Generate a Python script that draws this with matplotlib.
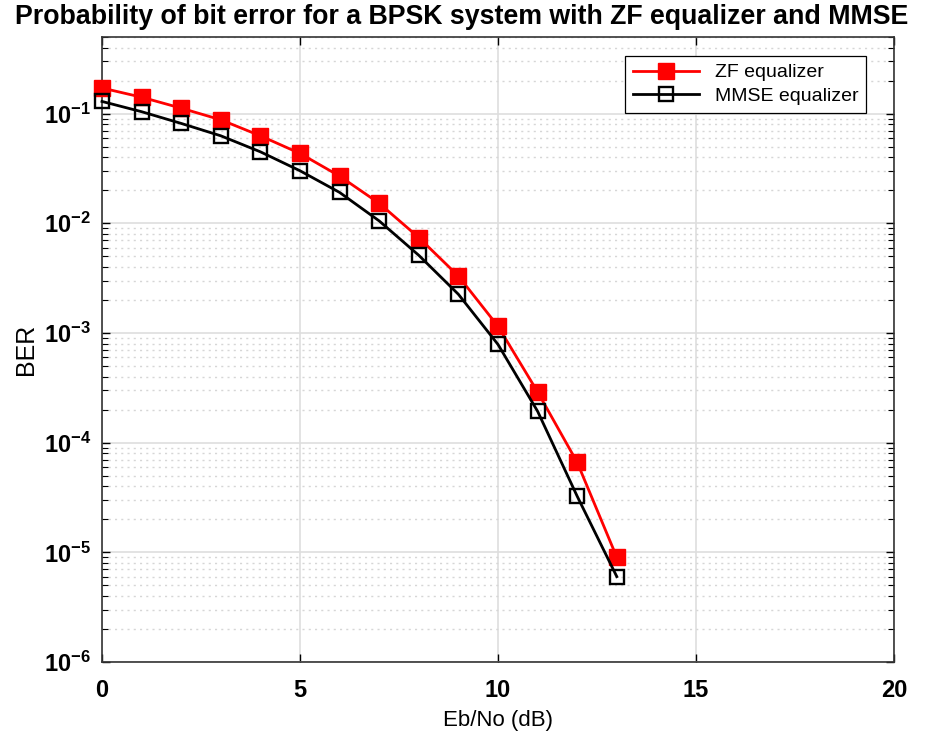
import matplotlib
matplotlib.use('Agg')
import matplotlib.pyplot as plt
from matplotlib.ticker import LogLocator, NullFormatter

# Eb/No values in dB
ebno_db = [0, 1, 2, 3, 4, 5, 6, 7, 8, 9, 10, 11, 12, 13]

# BER
ber_zf = [0.171, 0.141, 0.112, 0.0877, 0.0627, 0.0433, 0.0269, 0.0152,
          0.0074, 0.0033, 0.00115, 2.9e-4, 6.6e-5, 9.0e-6]
ber_mmse = [0.129, 0.104, 0.0813, 0.0627, 0.0448, 0.0301, 0.0191, 0.0105,
            0.0051, 0.00225, 7.85e-4, 1.93e-4, 3.24e-5, 6.0e-6]

x_ticks = [0, 5, 10, 15, 20]

plt.rcParams['font.family'] = ['Liberation Sans', 'DejaVu Sans']

fig = plt.figure(figsize=(9.34, 7.38), dpi=100)
ax = fig.add_axes([0.1092, 0.103, 0.848, 0.847])

ax.semilogy(ebno_db, ber_zf, color='red', lw=2, marker='s', ms=11,
            mfc='red', mec='red', label='ZF equalizer', clip_on=False, zorder=3)
ax.semilogy(ebno_db, ber_mmse, color='black', lw=2, marker='s', ms=10,
            mfc='none', mec='black', mew=1.7, label='MMSE equalizer', clip_on=False, zorder=3)

ax.set_xlim(0, 20)
ax.set_ylim(1e-6, 0.5)
ax.set_xticks(x_ticks)
ax.yaxis.set_major_locator(LogLocator(base=10, numticks=20))
ax.yaxis.set_minor_locator(LogLocator(base=10, subs=range(2, 10), numticks=100))
ax.yaxis.set_minor_formatter(NullFormatter())

ax.grid(True, which='major', color='#dedede', lw=1.2, ls='-')
ax.grid(True, which='minor', axis='y', color='#d6d6d6', lw=1, ls=(0, (1.5, 3)))
ax.set_axisbelow(True)

ax.tick_params(which='both', direction='in', top=True, right=True)
ax.tick_params(which='major', length=6, width=1, labelsize=17)
ax.tick_params(axis='x', which='major', pad=12)
ax.tick_params(axis='y', which='major', pad=8)
ax.tick_params(which='minor', length=4, width=0.8)
for lab in ax.get_xticklabels() + ax.get_yticklabels():
    lab.set_fontweight('bold')
for s in ax.spines.values():
    s.set_color('#333333')
    s.set_linewidth(1.2)

ax.set_xlabel('Eb/No (dB)', fontsize=16, labelpad=6)
ax.set_ylabel('BER', fontsize=18, labelpad=4)
ax.set_title('Probability of bit error for a BPSK system with ZF equalizer and MMSE',
             fontsize=19.3, fontweight='bold', pad=9, x=0.4545)

leg = ax.legend(loc='upper right', fontsize=14, fancybox=False, framealpha=1,
                edgecolor='black', handlelength=3.4, borderpad=0.4,
                labelspacing=0.3, bbox_to_anchor=(0.977, 0.985))
leg.get_frame().set_linewidth(0.9)

fig.savefig('out.png', dpi=100)
